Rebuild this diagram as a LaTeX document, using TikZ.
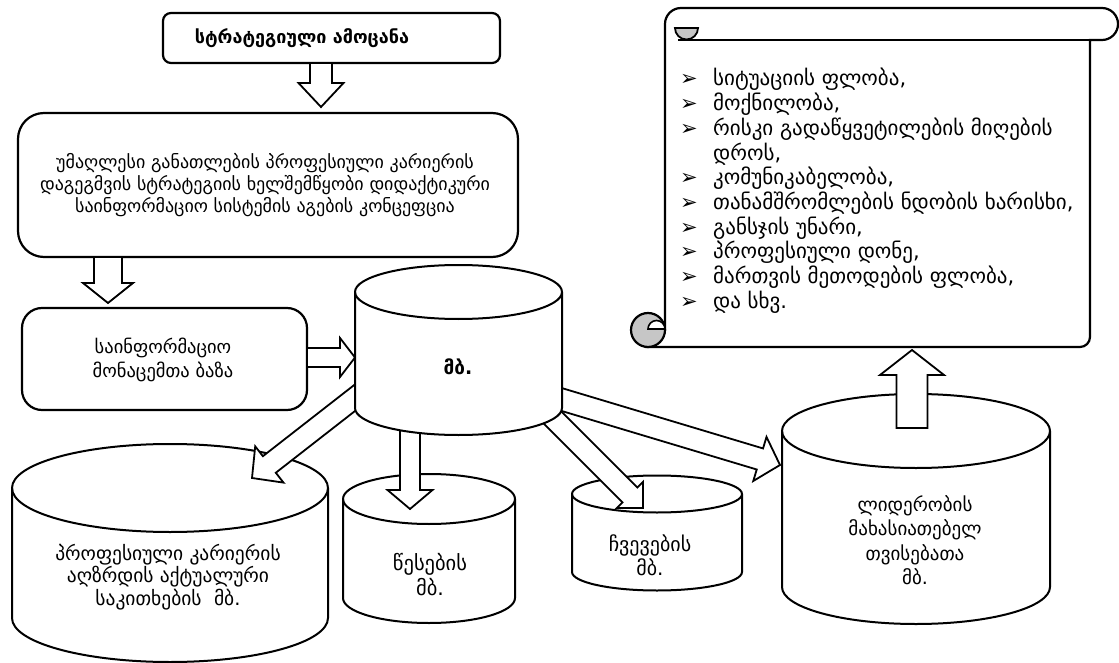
\documentclass[tikz,border=0pt]{standalone}
\usepackage{fontspec}
\setmainfont{DejaVu Sans}
\usetikzlibrary{calc}
\newcommand\fs[2]{\fontsize{#1}{#2}\selectfont}
\tikzset{
  rbox/.style={draw, line width=2.2pt, fill=white, rounded corners=#1, outer sep=0pt},
  cylpath/.style={draw, line width=2pt, fill=white},
  barrow/.style={draw, line width=1.8pt, fill=white, line join=miter},
  lbl/.style 2 args={align=center, inner sep=0pt, font=\fs{#1}{#2}},
  scrollline/.style={draw, line width=2.2pt},
}
\newcommand\blockarrow[5]{%
  \coordinate (bac) at ($(#2)!#5!(#1)$);
  \draw[barrow] ($(#1)!#3!90:(#2)$) -- ($(bac)!#3!-90:(#1)$) -- ($(bac)!#4!-90:(#1)$) -- (#2) -- ($(bac)!#4!90:(#1)$) -- ($(bac)!#3!90:(#1)$) -- ($(#1)!#3!-90:(#2)$) -- cycle;}
\newcommand\cyl[5]{% cx, ytop, ybot, rx, ry
  \path[cylpath] ({#1-#4},#2) -- ({#1-#4},#3) arc[start angle=180,end angle=0,x radius=#4,y radius=#5] -- ({#1+#4},#2) arc[start angle=0,end angle=-180,x radius=#4,y radius=#5] -- cycle;
  \draw[line width=2pt] ({#1-#4},#2) arc[start angle=180,end angle=0,x radius=#4,y radius=#5];}
\begin{document}
\begin{tikzpicture}[x=1pt,y=-1pt]
\useasboundingbox (0,0) rectangle (1119,663);
\fill[white] (0,0) rectangle (1119,663);

% boxes
\node[rbox=8pt, minimum width=337pt, minimum height=50pt] (top) at (331.5,38) {};
\node[inner sep=0pt, font=\bfseries\fs{18pt}{20pt}] (toptxt) at (302,38) {სტრატეგიული ამოცანა};

\node[rbox=26pt, minimum width=500pt, minimum height=144pt] (concept) at (268,185) {};
\node[lbl={18pt}{22pt}] (concepttxt) at (265,185) {უმაღლესი განათლების პროფესიული კარიერის\\დაგეგმვის სტრატეგიის ხელშემწყობი დიდაქტიკური\\საინფორმაციო სისტემის აგების კონცეფცია};

\node[rbox=20pt, minimum width=285pt, minimum height=102pt] (info) at (164.5,359) {};
\node[lbl={18.5pt}{24pt}] (infotxt) at (163,360) {საინფორმაციო\\მონაცემთა ბაზა};

% scroll
\filldraw[scrollline, fill=white] (665,330) -- (665,24) arc[start angle=180,end angle=270,radius=16] -- (1102,8) arc[start angle=270,end angle=450,radius=16] -- (1090,40) -- (1090,337) arc[start angle=0,end angle=90,radius=10] -- (648,347) -- cycle;
\draw[scrollline] (678,40) -- (1090,40);
\filldraw[line width=1.8pt, fill=gray!45] (675,28) arc[start angle=180,end angle=0,radius=11.5] -- cycle;
\filldraw[scrollline, fill=gray!45] (648,330) circle[radius=17];
\filldraw[line width=1.6pt, fill=white] (648,329) arc[start angle=180,end angle=360,radius=8.5] -- cycle;
\node[anchor=north west, inner sep=0pt, font=\fs{21pt}{24pt}] (list) at (680,68) {%
\begin{tabular}{@{}l@{}l@{}}
\makebox[33pt][l]{➢} & სიტუაციის ფლობა,\\
\makebox[33pt][l]{➢} & მოქნილობა,\\
\makebox[33pt][l]{➢} & რისკი გადაწყვეტილების მიღების\\
 & დროს,\\
\makebox[33pt][l]{➢} & კომუნიკაბელობა,\\
\makebox[33pt][l]{➢} & თანამშრომლების ნდობის ხარისხი,\\
\makebox[33pt][l]{➢} & განსჯის უნარი,\\
\makebox[33pt][l]{➢} & პროფესიული დონე,\\
\makebox[33pt][l]{➢} & მართვის მეთოდების ფლობა,\\
\makebox[33pt][l]{➢} & და სხვ.
\end{tabular}};

% target cylinders
\cyl{170}{488}{618}{158}{44}
\node[lbl={19.5pt}{22.5pt}] (bigtxt) at (168,577) {პროფესიული კარიერის\\აღზრდის აქტუალური\\საკითხების~~მბ.};
\cyl{429}{499}{598}{86}{25}
\node[lbl={20.5pt}{25pt}] (rulestxt) at (430,575) {წესების\\მბ.};
\cyl{657}{494}{572}{85}{18.5}
\node[lbl={20pt}{24pt}] (skillstxt) at (650,555) {ჩვევების\\მბ.};
\cyl{916}{431}{587}{134}{37}
\node[lbl={19pt}{24.5pt}] (leadtxt) at (915,540) {ლიდერობის\\მახასიათებელ\\თვისებათა\\მბ.};

% arrow end points
\coordinate (a1s) at (321,63);   \coordinate (a1e) at (321,107);
\coordinate (a2s) at (108,257);  \coordinate (a2e) at (108,303);
\coordinate (a3s) at (307,357.5);\coordinate (a3e) at (355,357.5);
\coordinate (a4s) at (370,386);  \coordinate (a4e) at (252,478);
\coordinate (a5s) at (410,420);  \coordinate (a5e) at (410,509);
\coordinate (a6s) at (530,395);  \coordinate (a6e) at (643,508);
\coordinate (a7s) at (540,393);  \coordinate (a7e) at (780,465);
\coordinate (a8s) at (912,428);  \coordinate (a8e) at (912,350);

\blockarrow{a1s}{a1e}{11pt}{22.5pt}{24pt}
\blockarrow{a2s}{a2e}{14pt}{25pt}{20pt}
\blockarrow{a3s}{a3e}{9.5pt}{19.5pt}{15pt}
\blockarrow{a4s}{a4e}{10.5pt}{23pt}{22pt}
\blockarrow{a5s}{a5e}{10pt}{22.5pt}{19pt}
\blockarrow{a6s}{a6e}{10.5pt}{18.5pt}{18.5pt}
\blockarrow{a7s}{a7e}{11pt}{23pt}{21pt}
\blockarrow{a8s}{a8e}{15.5pt}{32pt}{25pt}

% central cylinder
\cyl{458.5}{292}{408}{103.5}{27}
\node[inner sep=0pt, font=\bfseries\fs{19pt}{20pt}] (mbtxt) at (458,367) {მბ.};
\end{tikzpicture}
\end{document}
